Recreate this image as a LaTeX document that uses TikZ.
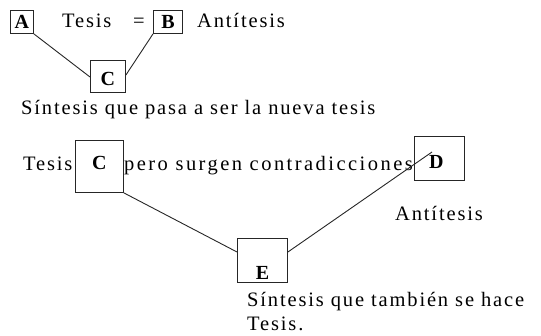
\documentclass[tikz,border=0pt]{standalone}
\usepackage{fontspec}
\setmainfont{Liberation Serif}
\newfontfamily\spacedserif[LetterSpace=9]{Liberation Serif}
\newfontfamily\widerserif[LetterSpace=12]{Liberation Serif}
\begin{document}
\begin{tikzpicture}[x=1pt,y=-1pt,
  box/.style={draw=black!85,line width=0.9pt,inner sep=0pt,anchor=north west},
  lbl/.style={font=\fontsize{20}{23}\selectfont\bfseries},
  txt/.style={anchor=base west,inner sep=0pt,font=\spacedserif\fontsize{20.5}{23}\selectfont},
  widetxt/.style={txt,font=\widerserif\fontsize{20.5}{23}\selectfont},
  conn/.style={draw=black!85,line width=0.9pt}]
\useasboundingbox (0,0) rectangle (541,335);
% top part
\node[box,minimum width=23pt,minimum height=23pt,label={[lbl]center:A}] (A) at (10,10) {};
\node[box,minimum width=29pt,minimum height=23pt,label={[lbl]center:B}] (B) at (153,10) {};
\node[box,minimum width=35pt,minimum height=32pt,label={[lbl,yshift=-3pt]center:C}] (C) at (90,60) {};
\node[txt] (t1) at (62,27) {Tesis};
\node[txt] (eq) at (133,27) {=};
\node[txt] (a1) at (197,27) {Antítesis};
\node[txt] (s1) at (21,114) {Síntesis que pasa a ser la nueva tesis};
\draw[conn] (A.south east) -- (C.west |- 0,77);
\draw[conn] (B.south west) -- (C.east |- 0,75);
% bottom part
\node[box,minimum width=48pt,minimum height=52pt,label={[lbl,yshift=3pt]center:C}] (C2) at (75,140) {};
\node[box,minimum width=50pt,minimum height=44pt,label={[lbl,yshift=-4pt,xshift=-3pt]center:D}] (D) at (414,136) {};
\node[box,minimum width=50pt,minimum height=44pt,label={[lbl,yshift=-12pt]center:E}] (E) at (237,238) {};
\coordinate (Dend) at (432,152);
\node[txt] (t2) at (23,170) {Tesis};
\node[widetxt] (p2) at (124,170) {pero surgen contradicciones};
\node[txt] (a2) at (395,220) {Antítesis};
\node[txt] (s2) at (247,306) {Síntesis que también se hace};
\node[txt] (t3) at (247,330) {Tesis.};
\draw[conn] (C2.south east) -- (E.west |- 0,252);
\draw[conn] (E.east |- 0,252) -- (Dend);
\end{tikzpicture}
\end{document}
